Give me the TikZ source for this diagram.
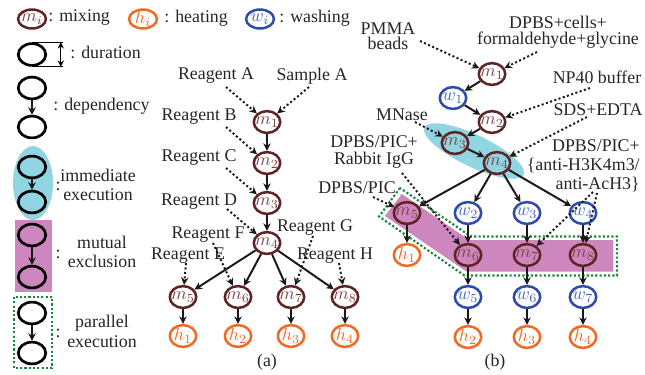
\documentclass[tikz,border=0pt]{standalone}
\usepackage{fontspec}
\setmainfont{Liberation Serif}
\usetikzlibrary{shapes.geometric,arrows.meta}
\definecolor{mixbrown}{RGB}{95,35,35}
\definecolor{mixtext}{RGB}{125,65,65}
\definecolor{heatorange}{RGB}{242,105,35}
\definecolor{washblue}{RGB}{45,75,170}
\definecolor{washtext}{RGB}{70,100,195}
\definecolor{cyanfill}{RGB}{145,212,226}
\definecolor{purplefill}{RGB}{206,134,190}
\definecolor{greendot}{RGB}{25,135,55}
\tikzset{
  circ/.style={ellipse, draw, inner sep=0pt, minimum width=14.8pt, minimum height=12.2pt, line width=1.4pt},
  mixc/.style={circ, draw=mixbrown},
  heatc/.style={circ, draw=heatorange},
  washc/.style={circ, draw=washblue},
  legc/.style={ellipse, draw, inner sep=0pt, minimum width=15.6pt, minimum height=10.6pt, line width=1.4pt},
  blk/.style={ellipse, draw=black, inner sep=0pt, minimum width=15.4pt, minimum height=12.2pt, line width=1.5pt},
  mixt/.style={text=mixtext, inner sep=0pt},
  heatt/.style={text=heatorange, inner sep=0pt},
  washt/.style={text=washtext, inner sep=0pt},
  txt/.style={inner sep=0pt, text=black!85},
  arr/.style={-{Stealth[length=4.2pt,width=4.2pt]}, line width=1.1pt, black!90},
  darr/.style={arr, dash pattern=on 1.15pt off 1.35pt},
  gdot/.style={draw=greendot, line width=1.2pt, dash pattern=on 1.2pt off 1.2pt},
}
\newcommand{\mixN}[3]{\node[mixc,label={[mixt]center:$m_{#3}$}] (#1) at (#2) {};}
\newcommand{\heatN}[3]{\node[heatc,label={[heatt]center:$h_{#3}$}] (#1) at (#2) {};}
\newcommand{\washN}[3]{\node[washc,label={[washt]center:$w_{#3}$}] (#1) at (#2) {};}
\begin{document}
\begin{tikzpicture}[x=0.56pt,y=-0.56pt,font=\fontsize{10}{11}\selectfont]
\useasboundingbox (0,0) rectangle (645,374);

% ---------------- legend ----------------
\fill[cyanfill] (33,183) ellipse [x radius=20, y radius=37];
\fill[purplefill] (15,220) rectangle (52,292);
\draw[gdot] (14,297) rectangle (52,368);

\node[legc,draw=mixbrown,label={[mixt]center:$m_i$}] (lm) at (32,19) {};
\node[txt,anchor=west] (lmt) at (48,18) {: mixing};
\node[legc,draw=heatorange,label={[heatt]center:$h_i$}] (lh) at (143,19) {};
\node[txt,anchor=west] (lht) at (164,18) {: heating};
\node[legc,draw=washblue,label={[washt]center:$w_i$}] (lw) at (260,19) {};
\node[txt,anchor=west] (lwt) at (279,18) {: washing};

\node[blk] (dur) at (32,54.5) {};
\draw[line width=0.5pt] (dur.north) -- ++(31,0) coordinate (dt);
\draw[line width=0.5pt] (dur.south) -- ++(31,0) coordinate (db);
\draw[{Stealth[length=3.5pt,width=3.5pt]}-{Stealth[length=3.5pt,width=3.5pt]}, line width=0.6pt] ([xshift=-1.2pt]dt) -- ([xshift=-1.2pt]db);
\node[txt,anchor=west] (durt) at (70,52) {: duration};

\node[blk] (dp1) at (32,88) {};
\node[blk] (dp2) at (32,127) {};
\draw[arr] (dp1) -- (dp2);
\node[txt,anchor=west] (dpt) at (53,106) {: dependency};

\node[blk] (im1) at (32,167) {};
\node[blk] (im2) at (32,202) {};
\draw[arr] (im1) -- (im2);
\node[txt] (imc) at (58,186) {:};
\node[txt,align=center,font=\fontsize{10}{10.3}\selectfont] (imt) at (98,185) {immediate\\execution};

\node[blk] (mu1) at (32,235) {};
\node[blk] (mu2) at (32,277) {};
\draw[arr] (mu1) -- (mu2);
\node[txt] (muc) at (58,254) {:};
\node[txt,align=center,font=\fontsize{10}{10.7}\selectfont] (mut) at (102,252) {mutual\\exclusion};

\node[blk] (pa1) at (32,313) {};
\node[blk] (pa2) at (32,353) {};
\draw[arr] (pa1) -- (pa2);
\node[txt] (pac) at (58,333) {:};
\node[txt,align=center,font=\fontsize{10}{11.2}\selectfont] (pat) at (102,331) {parallel\\execution};

% ---------------- (a) ----------------
\mixN{am1}{267,122}{1}
\mixN{am2}{267,163}{2}
\mixN{am3}{267,203}{3}
\mixN{am4}{267,243}{4}
\mixN{am5}{183,297}{5}
\mixN{am6}{238,297}{6}
\mixN{am7}{291,297}{7}
\mixN{am8}{345,297}{8}
\heatN{ah1}{183,336}{1}
\heatN{ah2}{238,336}{2}
\heatN{ah3}{291,336}{3}
\heatN{ah4}{345,336}{4}
\draw[arr] (am1) -- (am2);
\draw[arr] (am2) -- (am3);
\draw[arr] (am3) -- (am4);
\foreach \i in {5,6,7,8} \draw[arr] (am4) -- (am\i);
\draw[arr] (am5) -- (ah1);
\draw[arr] (am6) -- (ah2);
\draw[arr] (am7) -- (ah3);
\draw[arr] (am8) -- (ah4);

\node[txt] (rA) at (216,76) {Reagent A};
\node[txt] (sA) at (312,76) {Sample A};
\node[txt] (rB) at (199,116.5) {Reagent B};
\node[txt] (rC) at (199,158) {Reagent C};
\node[txt] (rD) at (199,201.5) {Reagent D};
\node[txt] (rF) at (208,235) {Reagent F};
\node[txt] (rE) at (188,256) {Reagent E};
\node[txt] (rG) at (315,227.5) {Reagent G};
\node[txt] (rH) at (335,256) {Reagent H};

\coordinate (cA) at (226,87);
\coordinate (cS) at (309,87);
\coordinate (cB) at (226,127);
\coordinate (cC) at (226,168);
\coordinate (cD) at (227,209);
\coordinate (cE) at (186,263);
\coordinate (cF) at (213,243);
\coordinate (cG) at (313,236);
\coordinate (cH) at (339,263);
\draw[darr] (cA) -- (am1);
\draw[darr] (cS) -- (am1);
\draw[darr] (cB) -- (am2);
\draw[darr] (cC) -- (am3);
\draw[darr] (cD) -- (am4);
\draw[darr] (cE) -- (am5);
\draw[darr] (cF) -- (am6);
\draw[darr] (cG) -- (am7);
\draw[darr] (cH) -- (am8);

\node[txt] (la) at (267,362) {(a)};

% ---------------- (b) ----------------
\fill[cyanfill, rotate around={-25.5:(474,151)}] (474,151) ellipse [x radius=55, y radius=16];
\fill[purplefill] (401.7,194) -- (385,216) -- (466.7,271.7) -- (613.3,271.7) -- (613.3,240) -- (469.3,240) -- cycle;
\draw[gdot] (400,188) -- (379,216.5) -- (464.5,275.5) -- (617,275.5) -- (617,236.5) -- (471,236.5) -- cycle;

\mixN{bm1}{492,74}{1}
\washN{bw1}{453,98}{1}
\mixN{bm2}{492,122}{2}
\mixN{bm3}{455,143}{3}
\mixN{bm4}{497,163}{4}
\mixN{bm5}{407,213}{5}
\washN{bw2}{468,213}{2}
\washN{bw3}{527,213}{3}
\washN{bw4}{583,213}{4}
\heatN{bh1}{407,255}{1}
\mixN{bm6}{468,255}{6}
\mixN{bm7}{527,255}{7}
\mixN{bm8}{583,255}{8}
\washN{bw5}{468,297}{5}
\washN{bw6}{527,297}{6}
\washN{bw7}{583,297}{7}
\heatN{bh2}{468,337}{2}
\heatN{bh3}{527,337}{3}
\heatN{bh4}{583,337}{4}

\draw[arr] (bm1) -- (bw1);
\draw[arr] (bw1) -- (bm2);
\draw[arr] (bm2) -- (bm3);
\draw[arr] (bm3) -- (bm4);
\draw[arr] (bm4) -- (bm5);
\draw[arr] (bm4) -- (bw2);
\draw[arr] (bm4) -- (bw3);
\draw[arr] (bm4) -- (bw4);
\draw[arr] (bm5) -- (bh1);
\draw[arr] (bw2) -- (bm6);
\draw[arr] (bw3) -- (bm7);
\draw[arr] (bw4) -- (bm8);
\draw[arr] (bm6) -- (bw5);
\draw[arr] (bm7) -- (bw6);
\draw[arr] (bm8) -- (bw7);
\draw[arr] (bw5) -- (bh2);
\draw[arr] (bw6) -- (bh3);
\draw[arr] (bw7) -- (bh4);

\node[txt,align=center,font=\fontsize{10}{8.6}\selectfont] (pmma) at (388,36) {PMMA\\beads};
\node[txt,align=center,font=\fontsize{10}{8.8}\selectfont] (dpbs1) at (558,32.5) {DPBS+cells+\\formaldehyde+glycine};
\node[txt] (np40) at (597,77) {NP40 buffer};
\node[txt] (sds) at (598,110) {SDS+EDTA};
\node[txt] (mnase) at (402,115) {MNase};
\node[txt,align=center,font=\fontsize{10}{9.2}\selectfont] (rabbit) at (374,152) {DPBS/PIC+\\Rabbit IgG};
\node[txt] (dpic) at (357,187.5) {DPBS/PIC};
\node[txt,align=right,anchor=east,font=\fontsize{10}{10.6}\selectfont] (anti) at (640,166) {DPBS/PIC+\\\{anti-H3K4m3/\\anti-AcH3\}};

\coordinate (cpm) at (420,41);
\coordinate (cdc) at (537,52);
\coordinate (cnp) at (590,88);
\coordinate (csd) at (587,117);
\coordinate (cmn) at (415,122);
\coordinate (crb) at (402,173);
\coordinate (cdp) at (373,197);
\coordinate (can1) at (593,192);
\coordinate (can2) at (597,193);
\draw[darr] (cpm) -- (bm1);
\draw[darr] (cdc) -- (bm1);
\draw[darr] (cnp) -- (bm2);
\draw[darr] (csd) -- (bm4);
\draw[darr] (cmn) -- (bm3);
\draw[darr] (crb) -- (bm6);
\draw[darr] (cdp) -- (bm5);
\draw[darr] (can1) -- (bm7);
\draw[darr] (can2) -- (bm8);

\node[txt] (lb) at (495,362) {(b)};
\end{tikzpicture}
\end{document}
